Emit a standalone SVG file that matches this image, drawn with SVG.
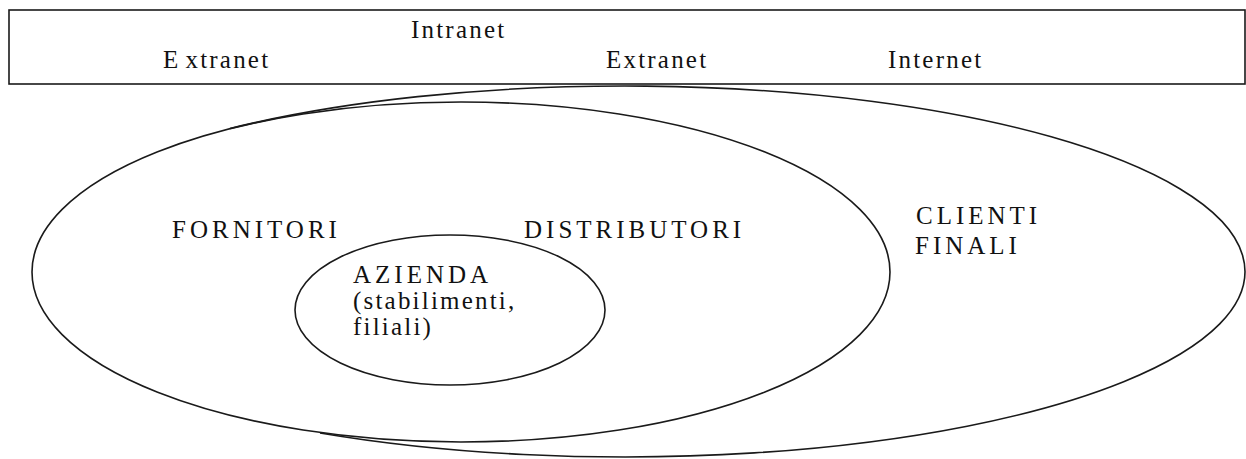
<svg xmlns="http://www.w3.org/2000/svg" width="1246" height="459" viewBox="0 0 1246 459">
<style>
.ln{fill:none;stroke:#1a1a1a;stroke-width:1.6}
.t{font-family:"Liberation Serif","Times New Roman",serif;font-size:25px;fill:#111}
.lc{letter-spacing:2.2px}
.uc{letter-spacing:4px}
</style>
<rect width="1246" height="459" fill="#ffffff"/>
<g id="band">
<rect class="ln" x="9" y="10" width="1236" height="74" stroke-width="2.2"/>
<text class="t lc" x="411" y="38">Intranet</text>
<text class="t lc" x="163" y="68">E<tspan dx="5">xtranet</tspan></text>
<text class="t lc" x="606" y="68">Extranet</text>
<text class="t lc" x="888" y="68">Internet</text>
</g>
<g id="clienti">
<path class="ln" d="M230 128.5 A620 185.5 0 1 1 320 433"/>
<text class="t uc" x="916" y="224">CLIENTI</text>
<text class="t uc" x="915" y="254">FINALI</text>
</g>
<g id="partner">
<ellipse class="ln" cx="461" cy="272" rx="429" ry="170"/>
<text class="t uc" x="172" y="238">FORNITORI</text>
<text class="t uc" x="524" y="238">DISTRIBUTORI</text>
</g>
<g id="azienda">
<ellipse class="ln" cx="450" cy="310" rx="155" ry="75"/>
<text class="t uc" x="353" y="283">AZIENDA</text>
<text class="t lc" x="353" y="309">(stabilimenti,</text>
<text class="t lc" x="353" y="335">filiali)</text>
</g>
<g id="connectors"/>
</svg>
